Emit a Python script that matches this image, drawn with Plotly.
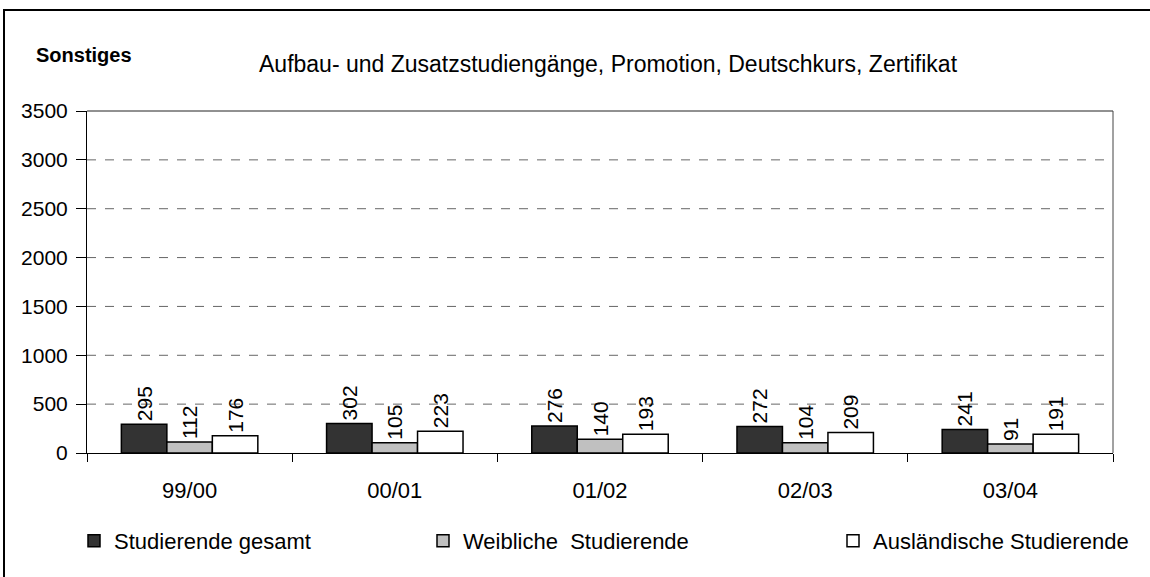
import plotly.graph_objects as go

categories = ["99/00", "00/01", "01/02", "02/03", "03/04"]
gesamt = [295, 302, 276, 272, 241]
weiblich = [112, 105, 140, 104, 91]
auslaendisch = [176, 223, 193, 209, 191]
series_names = ["Studierende gesamt", "Weibliche  Studierende", "Ausländische Studierende"]
y_ticks = [0, 500, 1000, 1500, 2000, 2500, 3000, 3500]

FONT = "Liberation Sans"
colors = ["#333333", "#c0c0c0", "#ffffff"]
legend_ids = ["legend", "legend2", "legend3"]

L, R, T, B = 87, 37, 111, 124
W, H = 1150, 577
pw, ph = W - L - R, H - T - B


def px_x(p):
    return (p - L) / pw


def px_y(p):
    return (H - B - p) / ph


fig = go.Figure()
for name, vals, col, lg in zip(series_names, [gesamt, weiblich, auslaendisch], colors, legend_ids):
    fig.add_trace(go.Bar(
        x=categories, y=vals, name=name, legend=lg,
        marker=dict(color=col, line=dict(color="black", width=1.5)),
        text=[str(v) for v in vals], textposition="outside", textangle=-90,
        textfont=dict(family=FONT, size=21, color="black"),
        cliponaxis=False,
    ))

legend_text_x = [112, 461, 871]
leg_common = dict(orientation="h", xanchor="left", yanchor="middle",
                  font=dict(family=FONT, size=22, color="black"),
                  bgcolor="rgba(0,0,0,0)", itemwidth=30)
legends = {}
for lg, tx in zip(legend_ids, legend_text_x):
    legends[lg] = dict(leg_common, x=px_x(tx - 38), y=px_y(541))

fig.update_layout(
    width=W, height=H,
    margin=dict(l=L, r=R, t=T, b=B, pad=0, autoexpand=False),
    paper_bgcolor="white", plot_bgcolor="white",
    barmode="group", bargap=0.335, bargroupgap=0,
    font=dict(family=FONT, size=21, color="black"),
    showlegend=True,
    xaxis=dict(showline=True, linecolor="black", linewidth=1,
               ticks="outside", tickson="boundaries", ticklen=8, tickcolor="black",
               ticklabelstandoff=18,
               tickfont=dict(family=FONT, size=22), fixedrange=True),
    yaxis=dict(range=[0, 3500], tickvals=y_ticks, showline=True, linecolor="black", linewidth=1,
               ticks="outside", ticklen=10, tickcolor="black", ticklabelstandoff=4,
               showgrid=False, zeroline=False,
               tickfont=dict(family=FONT, size=21)),
    shapes=[
        dict(type="rect", xref="paper", yref="paper", x0=px_x(4), x1=1.2, y0=-1, y1=px_y(10),
             line=dict(color="black", width=2), fillcolor="rgba(0,0,0,0)", layer="below"),
        dict(type="line", xref="paper", yref="paper", x0=0, x1=1, y0=1, y1=1,
             line=dict(color="#222222", width=1)),
        dict(type="line", xref="paper", yref="paper", x0=1, x1=1, y0=0, y1=1,
             line=dict(color="#444444", width=1)),
    ] + [
        dict(type="line", xref="paper", yref="y", x0=0, x1=1, y0=v, y1=v,
             line=dict(color="#666666", width=1, dash="dash"), layer="below")
        for v in y_ticks[1:-1]
    ],
    annotations=[
        dict(text="<b>Sonstiges</b>", xref="paper", yref="paper", x=px_x(34), y=px_y(55),
             xanchor="left", yanchor="middle", showarrow=False, font=dict(family=FONT, size=20)),
        dict(text="Aufbau- und Zusatzstudiengänge, Promotion, Deutschkurs, Zertifikat",
             xref="paper", yref="paper", x=px_x(608), y=px_y(64),
             xanchor="center", yanchor="middle", showarrow=False, font=dict(family=FONT, size=23)),
    ],
    **legends,
)

fig.write_html("out.html", config={"displayModeBar": False},
               post_script="document.body.style.margin='0';")
